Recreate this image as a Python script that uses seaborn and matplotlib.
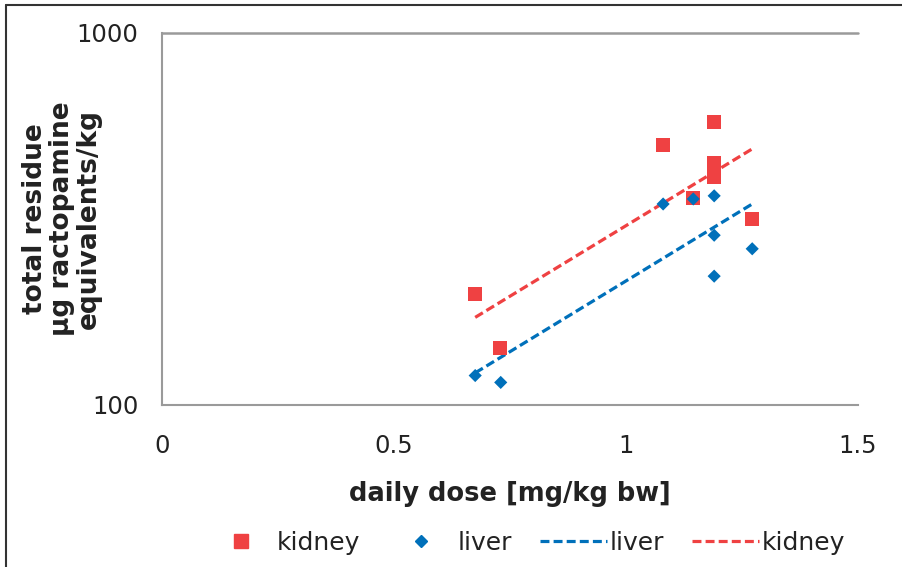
import numpy as np
import pandas as pd
import matplotlib
matplotlib.use("Agg")
import matplotlib.pyplot as plt
import seaborn as sns
from matplotlib.lines import Line2D

# ---- data ----
kidney_dose = [0.675, 0.728, 1.080, 1.145, 1.190, 1.190, 1.190, 1.272]
kidney_res = [199, 142, 500, 360, 577, 448, 410, 316]
liver_dose = [0.675, 0.730, 1.080, 1.145, 1.190, 1.190, 1.190, 1.272]
liver_res = [120, 115, 347, 358, 365, 286, 222, 263]
# exponential trend line end points (straight on log axis)
trend_dose = [0.675, 1.272]
kidney_trend = [172, 488]
liver_trend = [122, 347]

x_ticks = [0, 0.5, 1, 1.5]
x_tick_labels = ["0", "0.5", "1", "1.5"]
y_ticks = [100, 1000]
y_tick_labels = ["100", "1000"]

RED = "#EF4142"
BLUE = "#0070BA"
GRID = "#9A9A9A"
TXT = "#222222"

sns.set_style("white")
plt.rcParams["font.family"] = ["DejaVu Sans"]

fig = plt.figure(figsize=(9.03, 5.67), dpi=100)
ax = fig.add_axes([162 / 903, 1 - 405 / 567, (858 - 162) / 903, (405 - 33) / 567])

kid = pd.DataFrame({"dose": kidney_dose, "res": kidney_res})
liv = pd.DataFrame({"dose": liver_dose, "res": liver_res})
kt = pd.DataFrame({"dose": trend_dose, "res": kidney_trend})
lt = pd.DataFrame({"dose": trend_dose, "res": liver_trend})

DASH = (0, (2.8, 1.3))
sns.lineplot(data=lt, x="dose", y="res", ax=ax, color=BLUE, lw=2.3,
             linestyle=DASH, zorder=2)
sns.lineplot(data=kt, x="dose", y="res", ax=ax, color=RED, lw=2.3,
             linestyle=DASH, zorder=2)
sns.scatterplot(data=kid, x="dose", y="res", ax=ax, marker="s", s=105,
                color=RED, edgecolor="none", linewidth=0, zorder=3)
sns.scatterplot(data=liv, x="dose", y="res", ax=ax, marker="D", s=45,
                color=BLUE, edgecolor="none", linewidth=0, zorder=4)

ax.set_yscale("log")
ax.set_xlim(0, 1.5)
ax.set_ylim(100, 1000)
ax.set_xticks(x_ticks)
ax.set_xticklabels(x_tick_labels)
ax.set_yticks(y_ticks)
ax.set_yticklabels(y_tick_labels)
ax.yaxis.set_minor_locator(matplotlib.ticker.NullLocator())
ax.tick_params(axis="both", length=0, labelsize=17.5, colors=TXT)
ax.tick_params(axis="x", pad=21)
ax.tick_params(axis="y", pad=17)

for side in ["top", "right"]:
    ax.spines[side].set_visible(False)
for side in ["left", "bottom"]:
    ax.spines[side].set_color(GRID)
    ax.spines[side].set_linewidth(1.5)
ax.axhline(1000, color=GRID, lw=1.8, clip_on=False, zorder=1)

ax.set_xlabel("daily dose [mg/kg bw]", fontsize=18.5, fontweight="bold",
              color=TXT)
ax.xaxis.set_label_coords(0.5, -(481 - 405) / 372)
ax.set_ylabel("total residue\nµg ractopamine\nequivalents/kg", fontsize=19,
              fontweight="bold", color=TXT, linespacing=1.05)
ax.yaxis.set_label_coords(-(162 - 102) / 696, 0.5)

handles = [
    Line2D([], [], marker="s", color=RED, ls="none", markersize=10),
    Line2D([], [], marker="D", color=BLUE, ls="none", markersize=6.5),
    Line2D([], [], color=BLUE, lw=2.3, ls=DASH),
    Line2D([], [], color=RED, lw=2.3, ls=DASH),
]
labels = ["kidney", "liver", "liver", "kidney"]
fig.legend(handles, labels, loc="center", bbox_to_anchor=(526 / 903, 1 - 543 / 567),
           ncol=4, frameon=False, fontsize=18, handlelength=2.7,
           handletextpad=0.1, columnspacing=1.1, labelcolor=TXT,
           borderpad=0, borderaxespad=0)

# figure border (left and top visible in the reference)
fig.add_artist(Line2D([6.5 / 903, 6.5 / 903], [0, 1 - 4.5 / 567], color="#333333",
                      lw=1.5, transform=fig.transFigure))
fig.add_artist(Line2D([6.5 / 903, 1], [1 - 4.5 / 567, 1 - 4.5 / 567], color="#333333",
                      lw=1.5, transform=fig.transFigure))

fig.savefig("out.png", dpi=100)
